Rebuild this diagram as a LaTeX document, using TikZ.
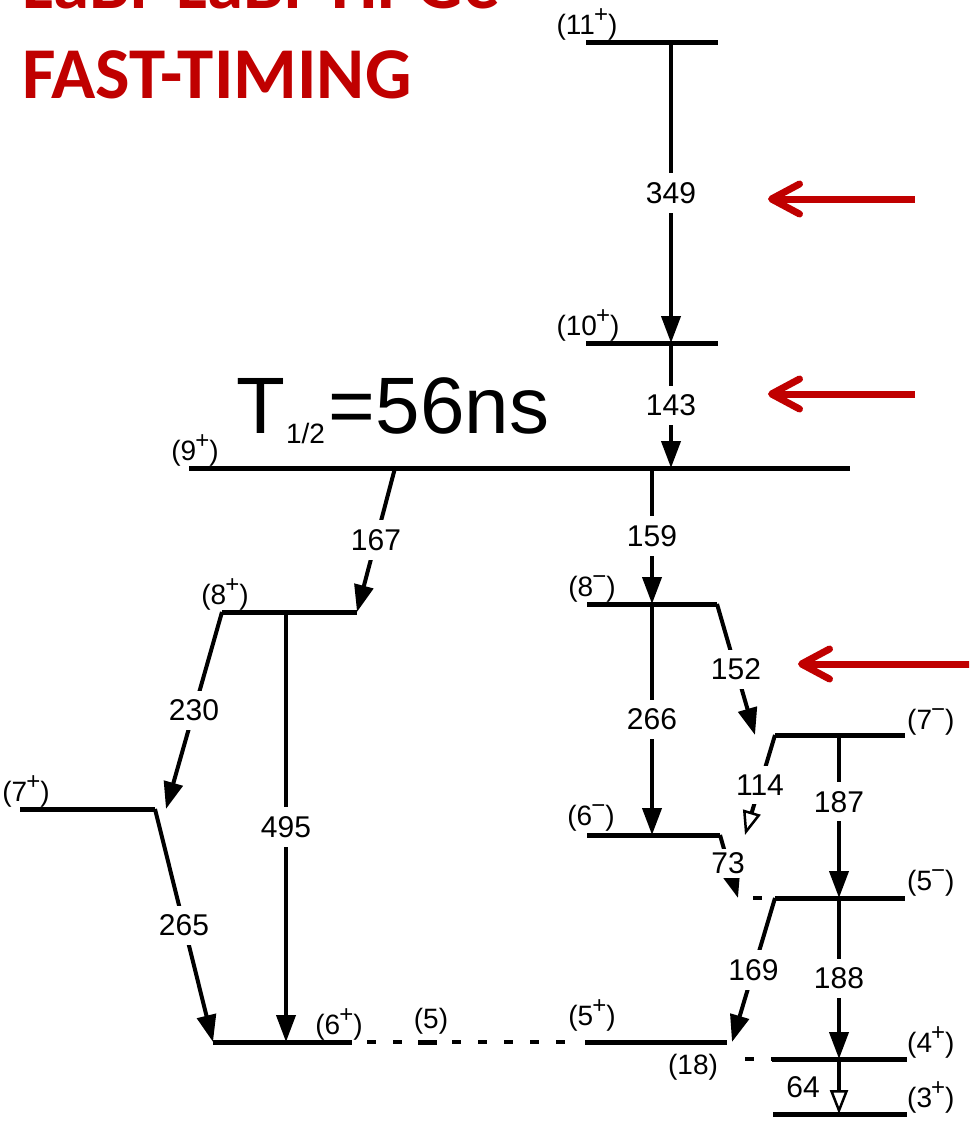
\documentclass[tikz,border=0pt]{standalone}
\usepackage{fontspec}
\setmainfont{Liberation Sans}
\newfontfamily\titlefont{Carlito}
\usetikzlibrary{arrows.meta}
\definecolor{darkred}{RGB}{192,0,0}
\newcommand\spinp{\kern-1pt\raisebox{0.4em}{\fontsize{24}{24}\selectfont +}}
\newcommand\spinm{\kern-1pt\raisebox{0.4em}{\fontsize{24}{24}\selectfont −}}

\begin{document}
\begin{tikzpicture}[x=1pt, y=-1pt,
    level/.style={line width=5pt},
    ext/.style={line width=4pt, dash pattern=on 9pt off 17pt, dash phase=11pt},
    trans/.style={-{Triangle[length=27pt, width=19pt]}, line width=4pt},
    weak/.style={-{Triangle[open, length=24pt, width=18pt, line width=2.5pt]}, line width=4pt},
    energy/.style={fill=white, font=\fontsize{30}{30}\selectfont, inner xsep=3pt, inner ysep=9pt},
    spin/.style={font=\fontsize{28}{28}\selectfont, inner sep=0pt, anchor=south},
    marker/.style={darkred, line width=7pt, -{Straight Barb[length=28pt, width=30pt, round]}},
    title/.style={darkred, font=\titlefont\bfseries\fontsize{73}{73}\selectfont, inner sep=0pt, anchor=base west},
]
\useasboundingbox (0,0) rectangle (969,1124);
\clip (0,0) rectangle (969,1124);

\node[title] (title1) at (22,9) {LaBr-LaBr-HPGe};
\node[title] (title2) at (22,98) {FAST-TIMING};
\node[anchor=base west, inner sep=0pt, font=\fontsize{80}{80}\selectfont] (thalf) at (236,433)
    {T\kern1pt\raisebox{-10pt}{\fontsize{28}{28}\selectfont 1/2}\kern4pt=56ns};

% levels
\coordinate (l11a) at (586,43);   \coordinate (l11b) at (718,43);
\coordinate (l10a) at (586,343);  \coordinate (l10b) at (718,343);
\coordinate (l9a) at (189,468);   \coordinate (l9b) at (850,468);
\coordinate (l8pa) at (222,612);  \coordinate (l8pb) at (357,612);
\coordinate (l8ma) at (587,604);  \coordinate (l8mb) at (717,604);
\coordinate (l7pa) at (20,809);   \coordinate (l7pb) at (155,809);
\coordinate (l7ma) at (775,735);  \coordinate (l7mb) at (905,735);
\coordinate (l6ma) at (587,835);  \coordinate (l6mb) at (720,835);
\coordinate (l5ma) at (775,898);  \coordinate (l5mb) at (905,898);
\coordinate (l6pa) at (213,1042); \coordinate (l6pb) at (352,1042);
\coordinate (l5a) at (418,1042);  \coordinate (l5b) at (437,1042);
\coordinate (l5pa) at (585,1042); \coordinate (l5pb) at (727,1042);
\coordinate (l4pa) at (772,1059); \coordinate (l4pb) at (907,1059);
\coordinate (l3pa) at (773,1114); \coordinate (l3pb) at (907,1114);

\foreach \l in {11,10,9,8p,8m,7p,7m,6m,5m,6p,5,5p,4p,3p}
    \draw[level] (l\l a) -- (l\l b);

\coordinate (x6p) at (415,1042);
\coordinate (x5p) at (580,1042);
\coordinate (x5m) at (738,898);
\coordinate (x4p) at (730,1059);
\draw[ext] (l6pb) -- (x6p);
\draw[ext] (l5b) -- (x5p);
\draw[ext] (x5m) -- (l5ma);
\draw[ext] (x4p) -- (l4pa);

% spins
\node[spin] (s11) at (587,40) {(11\spinp)};
\node[spin] (s10) at (588,341) {(10\spinp)};
\node[spin] (s9) at (195,466) {(9\spinp)};
\node[spin] (s8p) at (225,610) {(8\spinp)};
\node[spin] (s8m) at (592,602) {(8\spinm)};
\node[spin] (s7p) at (26,807) {(7\spinp)};
\node[spin] (s6m) at (591,831) {(6\spinm)};
\node[spin] (s6p) at (339,1040) {(6\spinp)};
\node[spin] (s5) at (431,1034) {(5)};
\node[spin] (s5p) at (592,1031) {(5\spinp)};
\node[spin, anchor=north] (s18) at (693,1054) {(18)};
\node[spin, anchor=south west] (s7m) at (907,735) {(7\spinm)};
\node[spin, anchor=south west] (s5m) at (907,896) {(5\spinm)};
\node[spin, anchor=south west] (s4p) at (907,1058) {(4\spinp)};
\node[spin, anchor=south west] (s3p) at (907,1113) {(3\spinp)};

% transitions
\coordinate (t349a) at (671,43);  \coordinate (t349b) at (671,343);
\coordinate (t143b) at (671,468);
\coordinate (t159a) at (652,468); \coordinate (t159b) at (652,604);
\coordinate (t167a) at (395,468);
\coordinate (t230b) at (166,809);
\coordinate (t495a) at (286,612); \coordinate (t495b) at (286,1042);
\coordinate (t266b) at (652,835);
\coordinate (t152b) at (755,735);
\coordinate (t187a) at (839,735); \coordinate (t187b) at (839,898);
\coordinate (t114b) at (745,835);
\coordinate (t169b) at (732,1042);
\coordinate (t188b) at (839,1059);
\coordinate (t64b) at (839,1114);

\draw[trans] (t349a) -- node[energy] {349} (t349b);
\draw[trans] (t349b) -- node[energy] {143} (t143b);
\draw[trans] (t159a) -- node[energy] {159} (t159b);
\draw[trans] (t167a) -- node[energy] {167} (l8pb);
\draw[trans] (l8pa) -- node[energy] {230} (t230b);
\draw[trans] (t495a) -- node[energy] {495} (t495b);
\draw[trans] (l7pb) -- node[energy] {265} (l6pa);
\draw[trans] (t159b) -- node[energy] {266} (t266b);
\draw[trans] (l8mb) -- node[energy] {152} (t152b);
\draw[trans] (t187a) -- node[energy, pos=0.41] {187} (t187b);
\draw[weak] (l7ma) -- node[energy] {114} (t114b);
\draw[trans] (l6mb) -- node[energy, inner ysep=4pt, pos=0.45] {73} (x5m);
\draw[trans] (l5ma) -- node[energy] {169} (t169b);
\draw[trans] (t187b) -- node[energy] {188} (t188b);
\draw[weak] (t188b) -- (t64b);
\node[font=\fontsize{30}{30}\selectfont] (e64) at (803,1087) {64};

% markers
\coordinate (m1a) at (915,199); \coordinate (m1b) at (768,199);
\coordinate (m2a) at (915,394); \coordinate (m2b) at (768,394);
\coordinate (m3a) at (985,664); \coordinate (m3b) at (798,664);
\draw[marker] (m1a) -- (m1b);
\draw[marker] (m2a) -- (m2b);
\draw[marker] (m3a) -- (m3b);

\end{tikzpicture}
\end{document}
